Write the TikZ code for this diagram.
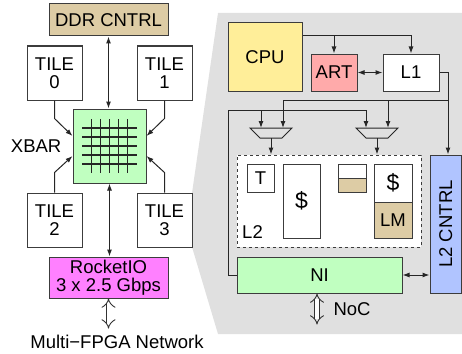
\documentclass[tikz,border=0pt]{standalone}
\usepackage{fontspec}
\setmainfont{Liberation Sans}
\usetikzlibrary{arrows.meta,positioning,calc}
\definecolor{ddrtan}{RGB}{221,204,165}
\definecolor{xbargreen}{RGB}{192,255,192}
\definecolor{riomagenta}{RGB}{255,128,255}
\definecolor{cpuyellow}{RGB}{255,238,153}
\definecolor{artpink}{RGB}{255,170,170}
\definecolor{ctrlblue}{RGB}{176,196,255}
\definecolor{bggray}{RGB}{224,224,224}
\definecolor{edgegray}{RGB}{60,60,60}
\tikzset{
  blk/.style={draw=edgegray,line width=1pt,inner sep=0pt,align=center},
  link/.style={line width=1pt,draw=black!85},
  tip/.style={-{Latex[length=7pt,width=5pt]}},
  tips/.style={{Latex[length=7pt,width=5pt]}-{Latex[length=7pt,width=5pt]}},
  hollow/.style={line width=0.9pt,draw=black!80,double=white,double distance=4pt,
    {Implies[length=10pt,width=14pt]}-{Implies[length=10pt,width=14pt]}},
  gridline/.style={line width=1.4pt,draw=black!85},
  muxline/.style={line width=1pt,draw=black!85},
  bigsym/.style={font=\fontsize{23}{23}\selectfont}
}
\newcommand{\muxshape}[1]{\draw[muxline] ($(#1)+(-21,0)$) -- ++(42,0) -- ++(-10,10) -- ++(-22,0) -- cycle;}

\begin{document}
\begin{tikzpicture}[x=1pt,y=-1pt,font=\fontsize{18.5}{18}\selectfont]
\useasboundingbox (0,0) rectangle (462,353);
% tile internals background
\fill[bggray] (218,13) -- (192,193) -- (192,247) -- (218,334) -- (462,334) -- (462,13) -- cycle;
% crossbar side
\node[blk,fill=ddrtan,minimum width=119pt,minimum height=32pt] (ddr) at (108.5,20) {DDR CNTRL};
\node[blk,fill=white,minimum width=55pt,minimum height=54pt] (tile0) at (54.5,73) {TILE\\0};
\node[blk,fill=white,minimum width=55pt,minimum height=54pt] (tile1) at (164.5,73) {TILE\\1};
\node[blk,fill=xbargreen,minimum width=73pt,minimum height=74pt] (xbar) at (109.5,146) {};
\node[inner sep=0pt,left=11pt of xbar] (xbarlbl) {XBAR};
\node[blk,fill=white,minimum width=55pt,minimum height=54pt] (tile2) at (54.5,220) {TILE\\2};
\node[blk,fill=white,minimum width=55pt,minimum height=54pt] (tile3) at (164.5,220) {TILE\\3};
\node[blk,fill=riomagenta,minimum width=119pt,minimum height=41pt] (rio) at (108.5,277.5) {RocketIO\\3 x 2.5 Gbps};
\node[inner sep=0pt] (net) at (117,342) {Multi−FPGA Network};
\foreach \d in {-18,-9,0,9,18} {
  \draw[gridline] ($(xbar.center)+(-27.5,\d)$) -- ++(55,0);
  \draw[gridline] ($(xbar.center)+(\d,-27)$) -- ++(0,54);
}
\draw[link,tips] (ddr.south) -- (ddr.south |- xbar.north);
\draw[link,tips] (xbar.south) -- (xbar.south |- rio.north);
\draw[link,tip] (tile0.south) -- ++(0,18) -- ($(xbar.west)+(0,-10)$);
\draw[link,tip] (tile1.south) -- ++(0,18) -- ($(xbar.east)+(0,-10)$);
\draw[link,tip] (tile2.north) -- ++(0,-20) -- ($(xbar.west)+(0,10)$);
\draw[link,tip] (tile3.north) -- ++(0,-20) -- ($(xbar.east)+(0,10)$);
\draw[hollow] (rio.south) -- ++(0,30);

% tile internals
\node[blk,fill=cpuyellow,minimum width=74pt,minimum height=68pt] (cpu) at (265,57) {CPU};
\node[blk,fill=artpink,minimum width=46pt,minimum height=37pt] (art) at (334,72.5) {ART};
\node[blk,fill=white,minimum width=56pt,minimum height=37pt] (l1) at (411,72.5) {L1};
\node[blk,fill=white,dashed,minimum width=184pt,minimum height=92pt] (l2) at (329,201) {};
\node[blk,fill=white,minimum width=27pt,minimum height=28pt] (tag) at (260.5,178) {T};
\node[blk,fill=white,bigsym,minimum width=37pt,minimum height=74pt] (cache) at (301.5,201) {\$};
\node[blk,fill=white,minimum width=28pt,minimum height=14pt] (halftop) at (352,171) {};
\node[blk,fill=ddrtan,minimum width=28pt,minimum height=14pt] (halfbot) at (352,185) {};
\node[blk,fill=white,bigsym,minimum width=38pt,minimum height=38pt] (scache) at (393,183) {\$};
\node[blk,fill=ddrtan,minimum width=38pt,minimum height=36pt] (lm) at (393,220) {LM};
\node[inner sep=0pt] (l2lbl) at (252.5,232) {L2};
\node[blk,fill=ctrlblue,minimum width=31.5pt,minimum height=138pt] (l2ctrl) at (445.75,224) {};
\node[rotate=90] (l2ctrllbl) at (l2ctrl.center) {L2 CNTRL};
\node[blk,fill=xbargreen,minimum width=165pt,minimum height=36pt] (ni) at (319.5,275) {NI};
\node[inner sep=0pt] (noc) at (352,309) {NoC};
% muxes
\coordinate (mux1) at (271,128);
\coordinate (mux2) at (377,128);
\muxshape{mux1}
\muxshape{mux2}
\coordinate (m1a) at (261,128);
\coordinate (m1b) at (283,128);
\coordinate (m2a) at (366,128);
\coordinate (m2b) at (388,128);
\coordinate (busA) at (228,110);
\coordinate (busB) at (448,100);
\coordinate (cpuout) at ($(cpu.north east)+(0,13)$);
\draw[link,tip] (cpuout) -| (l1.north);
\draw[link,tip] (cpuout -| art.north) -- (art.north);
\draw[link,tips] (art.east) -- (l1.west);
\draw[link,tip] (l1.east) -| (busB |- l2ctrl.north);
\draw[link,tip] (busB) -| (m1b);
\draw[link,tip] (m2b |- busB) -- (m2b);
\draw[link,tip] (ni.west) -| (busA) -| (m2a);
\draw[link,tip] (m1a |- busA) -- (m1a);
\draw[link,tip] ($(mux1)+(0,10)$) -- (mux1 |- l2.north);
\draw[link,tip] ($(mux2)+(0,10)$) -- (mux2 |- l2.north);
\draw[link,tips] (ni.east) -- (ni.east -| l2ctrl.west);
\draw[hollow] ($(ni.south)+(-2.5,0)$) -- ++(0,31);
\end{tikzpicture}
\end{document}
